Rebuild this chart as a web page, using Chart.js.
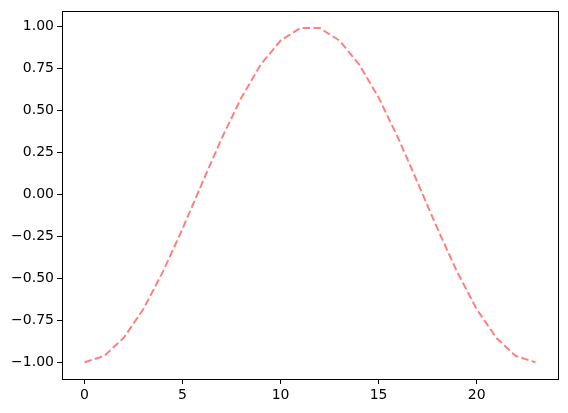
<!DOCTYPE html>
<html>
<head>
  <script src="https://cdn.jsdelivr.net/npm/chart.js"></script>
  <style>
    body { margin: 0; background: #fff; }
  </style>
</head>
<body>
  <div style="width:568px;height:413px;">
    <canvas id="waveChart"></canvas>
  </div>

  <script>
    // values
    const xValues = [0, 1, 2, 3, 4, 5, 6, 7, 8, 9, 10, 11, 12, 13, 14, 15, 16, 17, 18, 19, 20, 21, 22, 23];
    const yValues = [-1.000, -0.963, -0.854, -0.683, -0.460, -0.204, 0.068, 0.335, 0.577, 0.776, 0.917, 0.991,
                     0.991, 0.917, 0.776, 0.577, 0.335, 0.068, -0.204, -0.460, -0.683, -0.854, -0.963, -1.000];
    const xTicks = [0, 5, 10, 15, 20];
    const yTicks = [-1.00, -0.75, -0.50, -0.25, 0.00, 0.25, 0.50, 0.75, 1.00];

    // draws the box around the plot area like matplotlib does
    const frame = {
      id: 'frame',
      afterDraw(chart) {
        const a = chart.chartArea;
        const c = chart.ctx;
        c.save();
        c.strokeStyle = '#000';
        c.lineWidth = 1;
        c.strokeRect(Math.round(a.left) + 0.5, Math.round(a.top) + 0.5,
                     Math.round(a.right - a.left), Math.round(a.bottom - a.top));
        c.restore();
      }
    };

    const ctx = document.getElementById('waveChart').getContext('2d');
    const chart = new Chart(ctx, {
      type: 'line',
      data: {
        datasets: [{
          data: xValues.map((x, i) => ({ x: x, y: yValues[i] })),
          borderColor: 'rgba(255, 0, 0, 0.5)',
          borderWidth: 2,
          borderDash: [7.5, 3.3],
          pointRadius: 0,
          tension: 0,
          fill: false
        }]
      },
      options: {
        animation: false,
        responsive: true,
        maintainAspectRatio: false,
        layout: { padding: { left: 0, right: 10, top: 10, bottom: 0 } },
        plugins: { legend: { display: false }, tooltip: { enabled: false } },
        scales: {
          x: {
            type: 'linear',
            min: -1.15,
            max: 24.15,
            afterBuildTicks: s => { s.ticks = xTicks.map(v => ({ value: v })); },
            afterFit: s => { s.height = 34; },
            grid: { drawOnChartArea: false, drawTicks: true, tickLength: 5, tickColor: '#000' },
            border: { display: true, color: '#000' },
            ticks: { color: '#000', font: { family: 'DejaVu Sans', size: 14 }, padding: 3, maxRotation: 0 }
          },
          y: {
            min: -1.0996,
            max: 1.0906,
            afterBuildTicks: s => { s.ticks = yTicks.map(v => ({ value: v })); },
            afterFit: s => { s.width = 62; },
            grid: { drawOnChartArea: false, drawTicks: true, tickLength: 5, tickColor: '#000' },
            border: { display: true, color: '#000' },
            ticks: {
              color: '#000',
              font: { family: 'DejaVu Sans', size: 14 },
              padding: 3,
              callback: v => (v < 0 ? '\u2212' : '') + Math.abs(v).toFixed(2)
            }
          }
        }
      },
      plugins: [frame]
    });
  </script>
</body>
</html>
